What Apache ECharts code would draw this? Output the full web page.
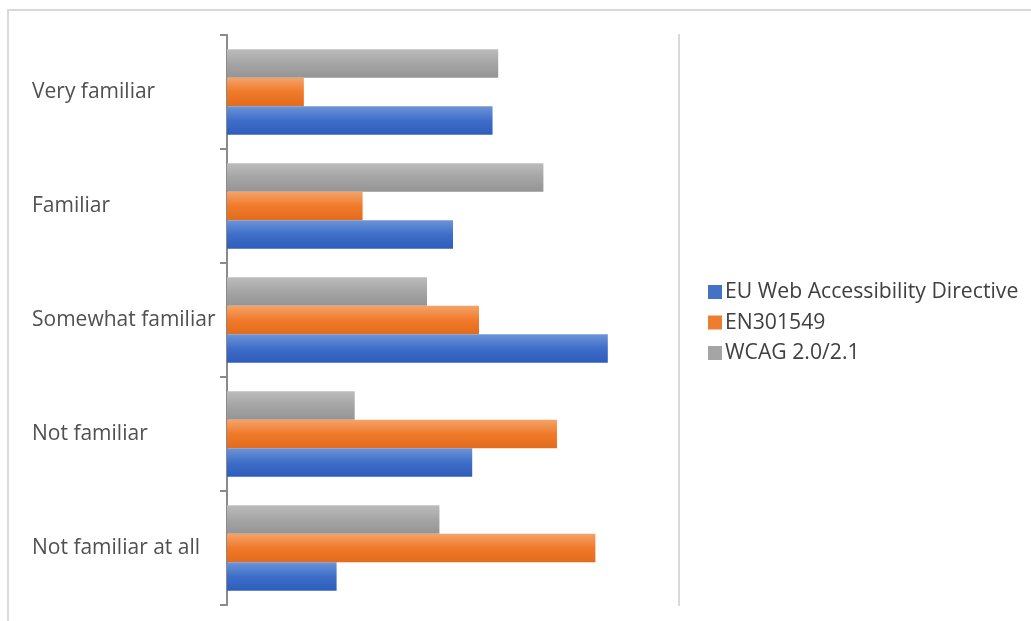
<!DOCTYPE html>
<html>
<head>
<meta charset="utf-8">
<script src="https://cdn.jsdelivr.net/npm/echarts@6/dist/echarts.min.js"></script>
<style>
html,body{margin:0;padding:0;background:#fff;}
#chart{width:1031px;height:621px;}
</style>
</head>
<body>
<div id="chart"></div>
<script>
// Categories listed bottom -> top (ECharts value axis grows upward)
const categories = ['Not familiar at all', 'Not familiar', 'Somewhat familiar', 'Familiar', 'Very familiar'];
const legendOrder = ['EU Web Accessibility Directive', 'EN301549', 'WCAG 2.0/2.1'];
const euDirective = [9.7, 21.7, 33.7, 20.0, 23.5];
const en301549 = [32.6, 29.2, 22.3, 12.0, 6.8];
const wcag = [18.8, 11.3, 17.7, 28.0, 24.0];

const chart = echarts.init(document.getElementById('chart'), null, {renderer: 'canvas'});
const FONT = '"Open Sans", "Liberation Sans", sans-serif';

function grad(top, mid, bottom) {
  return new echarts.graphic.LinearGradient(0, 0, 0, 1, [
    {offset: 0, color: top},
    {offset: 0.5, color: mid},
    {offset: 1, color: bottom}
  ]);
}

const legendColors = ['#4472c4', '#ed7d31', '#a5a5a5'];
// series drawn top -> bottom within each group: WCAG, EN, EU
const seriesDefs = [
  {name: 'WCAG 2.0/2.1', data: wcag, color: grad('#bcbcbc', '#a5a5a5', '#949494')},
  {name: 'EN301549', data: en301549, color: grad('#f4a36a', '#f07a2a', '#e36c1c')},
  {name: 'EU Web Accessibility Directive', data: euDirective, color: grad('#6d94d8', '#3e6ec8', '#2d5cbc')}
];

chart.setOption({
  animation: false,
  backgroundColor: '#ffffff',
  textStyle: {fontFamily: FONT},
  grid: {left: 227, right: 352, top: 35, bottom: 16, containLabel: false},
  legend: {
    orient: 'vertical',
    left: 703,
    top: 276,
    itemWidth: 14,
    itemHeight: 14,
    itemGap: 8.5,
    icon: 'rect',
    data: legendOrder.map((n, i) => ({name: n, itemStyle: {color: legendColors[i]}})),
    textStyle: {fontFamily: FONT, fontSize: 21.2, color: '#404040', padding: [0, 0, 0, -2], lineHeight: 22}
  },
  xAxis: {
    type: 'value',
    min: 0,
    max: 40,
    show: false,
    splitLine: {show: false}
  },
  yAxis: {
    type: 'category',
    data: categories,
    axisLine: {show: true, lineStyle: {color: '#8a8a8a', width: 2}},
    axisTick: {show: true, length: 7, lineStyle: {color: '#8a8a8a', width: 2}},
    axisLabel: {
      align: 'left',
      margin: 195,
      fontFamily: FONT,
      fontSize: 21,
      color: '#505050',
      padding: [3, 0, 0, 0]
    },
    splitLine: {show: false}
  },
  series: seriesDefs.map(s => ({
    name: s.name,
    type: 'bar',
    data: s.data,
    barGap: '0%',
    barCategoryGap: '25%',
    itemStyle: {color: s.color}
  })),
  graphic: [
    {type: 'rect', shape: {x: 8, y: 10, width: 1060, height: 700}, style: {fill: 'none', stroke: '#d9d9d9', lineWidth: 2}, silent: true},
    {type: 'line', shape: {x1: 679, y1: 34, x2: 679, y2: 606}, style: {stroke: '#d9d9d9', lineWidth: 2}, silent: true}
  ]
});
</script>
</body>
</html>
